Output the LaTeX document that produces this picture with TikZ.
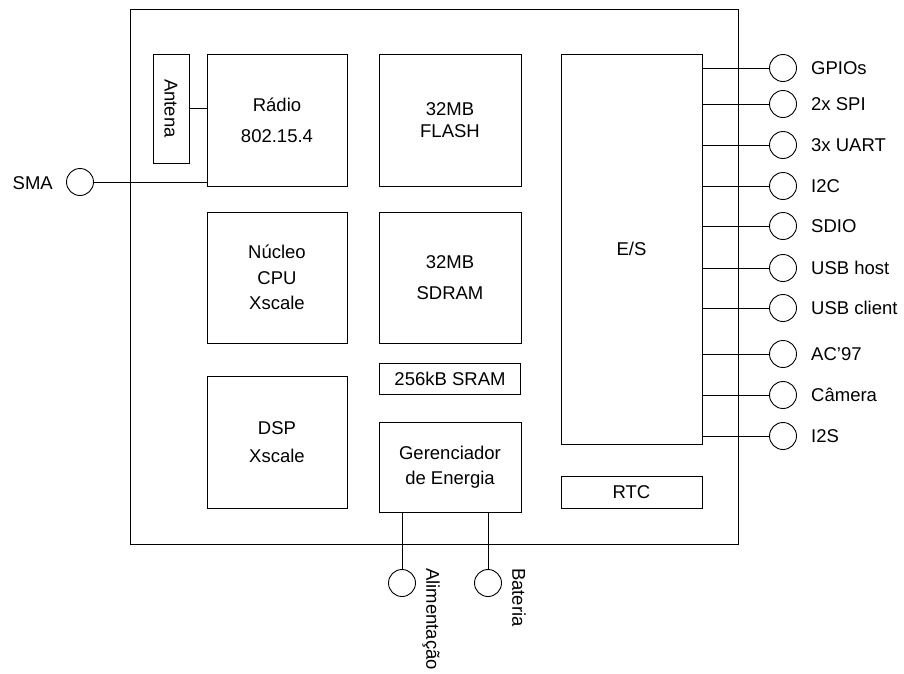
\documentclass[tikz,border=0pt]{standalone}
\usepackage{fontspec}
\setmainfont{Liberation Sans}
\usepackage{tikz}
\usetikzlibrary{positioning, calc}
\newcommand{\fsz}[1]{\fontsize{18.5}{#1}\selectfont}
\tikzstyle{bloco} = [draw, rectangle, line width=0.9pt, inner sep=0pt, align=center, font=\fsz{30}]
\tikzstyle{porta} = [draw, circle, minimum size=27pt, inner sep=0pt, line width=0.9pt]
\tikzstyle{rotulo} = [inner sep=0pt, font=\fsz{22}]
\tikzstyle{fio} = [line width=0.9pt]

\begin{document}
\begin{tikzpicture}[x=1pt, y=-1pt]
    \useasboundingbox (0,0) rectangle (904,673);

    % Placa
    \node[bloco, minimum width=608pt, minimum height=535pt] (placa) at (434, 276.5) {};

    % Blocos internos
    \node[bloco, minimum width=109pt, minimum height=36pt, rotate=-90] (antena) at (171, 108.5) {Antena};
    \node[bloco, minimum width=140pt, minimum height=132pt, font=\fsz{31}] (radio) at (277, 120) {Rádio\\802.15.4};
    \node[bloco, minimum width=142pt, minimum height=132pt, font=\fsz{22}] (flash) at (450, 120) {32MB\\FLASH};
    \node[bloco, minimum width=140pt, minimum height=131pt, font=\fsz{25.5}] (nucleo) at (277, 277.5) {Núcleo\\CPU\\Xscale};
    \node[bloco, minimum width=142pt, minimum height=131pt, font=\fsz{31.5}] (sdram) at (450, 277.5) {32MB\\SDRAM};
    \node[bloco, minimum width=141pt, minimum height=31pt] (sram) at (450, 378.5) {256kB SRAM};
    \node[bloco, minimum width=140pt, minimum height=132pt, font=\fsz{27.5}] (dsp) at (277, 442) {DSP\\Xscale};
    \node[bloco, minimum width=142pt, minimum height=90pt, font=\fsz{25}] (ger) at (450, 467) {Gerenciador\\de Energia};
    \node[bloco, minimum width=141pt, minimum height=390pt] (es) at (631.5, 249) {E/S};
    \node[bloco, minimum width=141pt, minimum height=32pt] (rtc) at (631.5, 492) {RTC};

    % Antena e SMA
    \draw[fio] (antena.north) -- (radio.west |- antena.north);
    \node[porta] (sma) at (80, 182) {};
    \node[rotulo, anchor=east] (smat) at (53, 183) {SMA};
    \draw[fio] (sma.east) -- (radio.west |- sma.east);

    % Interfaces de E/S
    \foreach \y/\nome [count=\i] in {68/GPIOs, 104/2x SPI, 145/3x UART, 186/I2C, 226/SDIO, 268/USB host, 308/USB client, 354/AC'97, 395/Câmera, 436/I2S} {
        \node[porta] (p\i) at (783, \y) {};
        \node[rotulo, anchor=west] (t\i) at (811, \y) {\nome};
        \draw[fio] (es.east |- p\i) -- (p\i.west);
    }

    % Energia
    \node[porta] (alim) at (402, 583) {};
    \node[porta] (bat) at (488, 583) {};
    \node[rotulo, rotate=-90, anchor=west] (alimt) at (431, 568) {Alimentação};
    \node[rotulo, rotate=-90, anchor=west] (batt) at (519, 568) {Bateria};
    \draw[fio] (ger.south -| alim) -- (alim.north);
    \draw[fio] (ger.south -| bat) -- (bat.north);
\end{tikzpicture}
\end{document}
